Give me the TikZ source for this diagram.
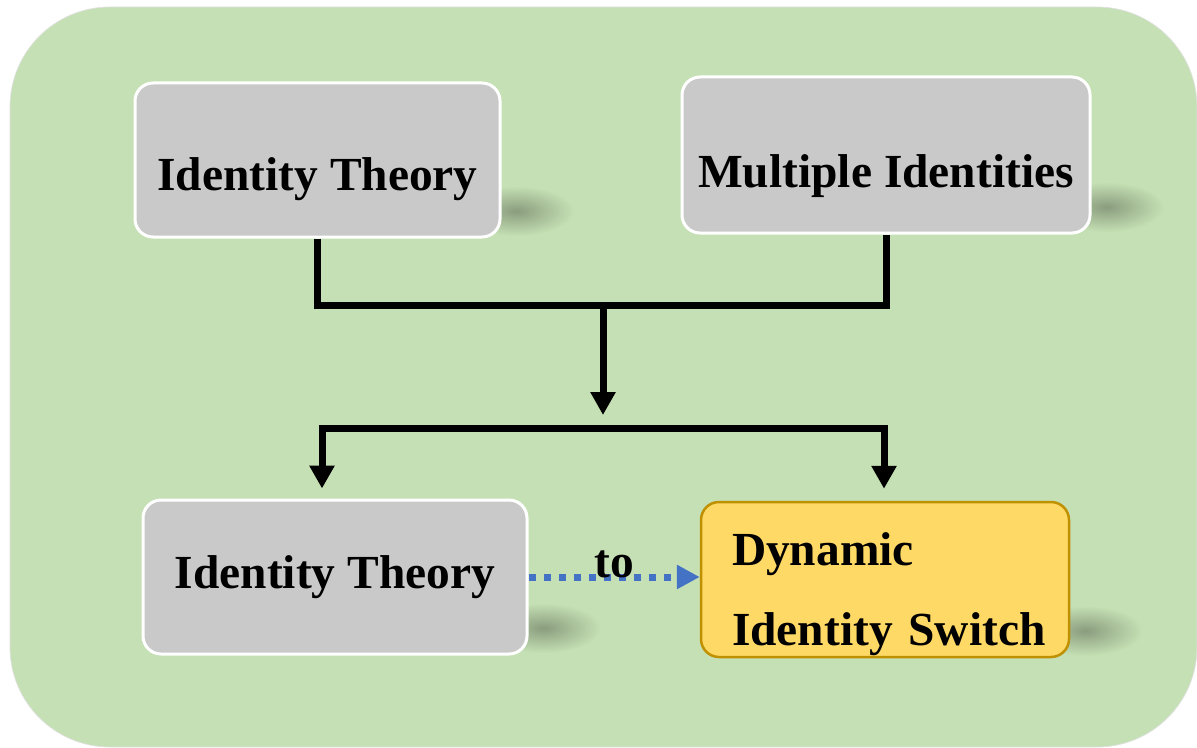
\documentclass[tikz,border=0pt]{standalone}
\usepackage{fontspec}
\setmainfont{Liberation Serif}
\usetikzlibrary{arrows.meta,calc}
\definecolor{bggreen}{HTML}{C5E0B4}
\definecolor{boxgray}{HTML}{C9C9C9}
\definecolor{boxyellow}{HTML}{FFD966}
\definecolor{yellowline}{HTML}{BF9000}
\definecolor{toblue}{HTML}{4472C4}
\pgfdeclarelayer{back}
\pgfdeclarelayer{shade}
\pgfsetlayers{back,shade,main}
\begin{document}
\begin{tikzpicture}[line join=round, >={Triangle[width=0.48cm,length=0.46cm]},
	font=\fontsize{27}{45.5}\selectfont\bfseries,
	graybox/.style={draw=white, line width=0.06cm, fill=boxgray, rounded corners=0.36cm, inner sep=0pt},
	yellowbox/.style={draw=yellowline, line width=0.05cm, fill=boxyellow, rounded corners=0.36cm, inner xsep=0.62cm, inner ysep=0pt, align=left},
	link/.style={line width=0.14cm, line join=miter},
	boxshade/.style={inner color=bggreen!70!black, outer color=bggreen}]
	\useasboundingbox (0,0) rectangle (23.94,14.94);
	\begin{pgfonlayer}{back}
		\fill[bggreen, draw=black!12, line width=0.4pt, rounded corners=2cm] (0.2,0) rectangle (23.94,14.8);
	\end{pgfonlayer}
	\node[graybox, minimum width=7.3cm, minimum height=3.08cm, text height=1.2cm, text depth=0pt] (A) at (6.35,11.74) {Identity Theory};
	\node[graybox, minimum width=8.16cm, minimum height=3.12cm, text height=1.28cm, text depth=0pt] (B) at (17.72,11.84) {Multiple Identities};
	\node[graybox, minimum width=7.68cm, minimum height=3.08cm] (C) at (6.7,3.4) {Identity Theory};
	\node[yellowbox, minimum width=7.36cm, minimum height=3.1cm, text width=6.12cm, text height=1.24cm] (D) at (17.7,3.35) {Dynamic\\\mbox{Identity Switch}};
	\begin{pgfonlayer}{shade}
		\foreach \b in {A,B,C,D}
			\shade[boxshade] ($(\b.south east)+(0.3,0.55)$) ellipse (1.15cm and 0.5cm);
	\end{pgfonlayer}
	\coordinate (J) at (12.06,8.84);
	\coordinate (T) at (12.06,6.64);
	\coordinate (L) at (6.44,6.38);
	\coordinate (R) at (17.68,6.38);
	\draw[link] (A.south) |- (J) -| (B.south);
	\draw[link, ->] (J) -- (T);
	\draw[link, <->, shorten <=0.2cm, shorten >=0.24cm] (L |- C.north) -- (L) -- (R) -- (R |- D.north);
	\draw[toblue, line width=0.14cm, dash pattern=on 0.14cm off 0.16cm, -{Triangle[width=0.46cm,length=0.46cm]}] (C.east) -- (D.west |- C.east) node[midway, anchor=base, text=black] {to};
\end{tikzpicture}
\end{document}
